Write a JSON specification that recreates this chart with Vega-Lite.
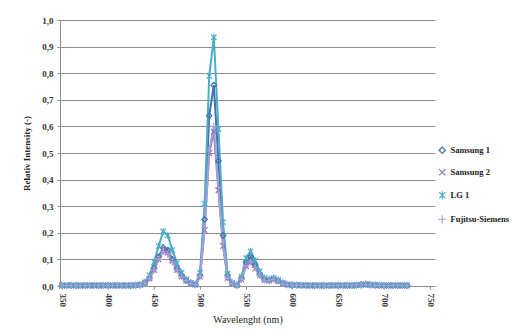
{
  "$schema": "https://vega.github.io/schema/vega-lite/v6.json",
  "width": 375,
  "height": 266,
  "autosize": {"type": "none"},
  "padding": {"left": 60, "top": 20, "right": 89, "bottom": 50},
  "background": "white",
  "config": {
    "view": {"stroke": null},
    "font": "Liberation Serif"
  },
  "data": {
    "values": [
      {"nm": 350, "Samsung 1": 0.002, "Samsung 2": 0.002, "LG 1": 0.002, "Fujitsu-Siemens": 0.002},
      {"nm": 355, "Samsung 1": 0.002, "Samsung 2": 0.003, "LG 1": 0.002, "Fujitsu-Siemens": 0.002},
      {"nm": 360, "Samsung 1": 0.002, "Samsung 2": 0.002, "LG 1": 0.003, "Fujitsu-Siemens": 0.002},
      {"nm": 365, "Samsung 1": 0.002, "Samsung 2": 0.002, "LG 1": 0.002, "Fujitsu-Siemens": 0.003},
      {"nm": 370, "Samsung 1": 0.002, "Samsung 2": 0.002, "LG 1": 0.002, "Fujitsu-Siemens": 0.002},
      {"nm": 375, "Samsung 1": 0.002, "Samsung 2": 0.003, "LG 1": 0.002, "Fujitsu-Siemens": 0.002},
      {"nm": 380, "Samsung 1": 0.002, "Samsung 2": 0.002, "LG 1": 0.002, "Fujitsu-Siemens": 0.002},
      {"nm": 385, "Samsung 1": 0.002, "Samsung 2": 0.002, "LG 1": 0.003, "Fujitsu-Siemens": 0.002},
      {"nm": 390, "Samsung 1": 0.002, "Samsung 2": 0.002, "LG 1": 0.002, "Fujitsu-Siemens": 0.002},
      {"nm": 395, "Samsung 1": 0.002, "Samsung 2": 0.002, "LG 1": 0.002, "Fujitsu-Siemens": 0.003},
      {"nm": 400, "Samsung 1": 0.002, "Samsung 2": 0.003, "LG 1": 0.002, "Fujitsu-Siemens": 0.002},
      {"nm": 405, "Samsung 1": 0.002, "Samsung 2": 0.002, "LG 1": 0.002, "Fujitsu-Siemens": 0.002},
      {"nm": 410, "Samsung 1": 0.002, "Samsung 2": 0.002, "LG 1": 0.003, "Fujitsu-Siemens": 0.002},
      {"nm": 415, "Samsung 1": 0.002, "Samsung 2": 0.002, "LG 1": 0.002, "Fujitsu-Siemens": 0.002},
      {"nm": 420, "Samsung 1": 0.002, "Samsung 2": 0.003, "LG 1": 0.002, "Fujitsu-Siemens": 0.002},
      {"nm": 425, "Samsung 1": 0.002, "Samsung 2": 0.002, "LG 1": 0.002, "Fujitsu-Siemens": 0.003},
      {"nm": 430, "Samsung 1": 0.003, "Samsung 2": 0.003, "LG 1": 0.003, "Fujitsu-Siemens": 0.003},
      {"nm": 435, "Samsung 1": 0.004, "Samsung 2": 0.004, "LG 1": 0.005, "Fujitsu-Siemens": 0.004},
      {"nm": 440, "Samsung 1": 0.012, "Samsung 2": 0.011, "LG 1": 0.014, "Fujitsu-Siemens": 0.011},
      {"nm": 445, "Samsung 1": 0.03, "Samsung 2": 0.028, "LG 1": 0.04, "Fujitsu-Siemens": 0.028},
      {"nm": 450, "Samsung 1": 0.068, "Samsung 2": 0.06, "LG 1": 0.09, "Fujitsu-Siemens": 0.06},
      {"nm": 455, "Samsung 1": 0.11, "Samsung 2": 0.1, "LG 1": 0.15, "Fujitsu-Siemens": 0.1},
      {"nm": 460, "Samsung 1": 0.145, "Samsung 2": 0.135, "LG 1": 0.205, "Fujitsu-Siemens": 0.13},
      {"nm": 465, "Samsung 1": 0.135, "Samsung 2": 0.125, "LG 1": 0.19, "Fujitsu-Siemens": 0.12},
      {"nm": 470, "Samsung 1": 0.1, "Samsung 2": 0.095, "LG 1": 0.135, "Fujitsu-Siemens": 0.09},
      {"nm": 475, "Samsung 1": 0.065, "Samsung 2": 0.06, "LG 1": 0.085, "Fujitsu-Siemens": 0.06},
      {"nm": 480, "Samsung 1": 0.04, "Samsung 2": 0.035, "LG 1": 0.05, "Fujitsu-Siemens": 0.035},
      {"nm": 485, "Samsung 1": 0.02, "Samsung 2": 0.02, "LG 1": 0.025, "Fujitsu-Siemens": 0.02},
      {"nm": 490, "Samsung 1": 0.01, "Samsung 2": 0.01, "LG 1": 0.012, "Fujitsu-Siemens": 0.01},
      {"nm": 495, "Samsung 1": 0.005, "Samsung 2": 0.005, "LG 1": 0.006, "Fujitsu-Siemens": 0.005},
      {"nm": 500, "Samsung 1": 0.04, "Samsung 2": 0.035, "LG 1": 0.05, "Fujitsu-Siemens": 0.035},
      {"nm": 505, "Samsung 1": 0.25, "Samsung 2": 0.21, "LG 1": 0.31, "Fujitsu-Siemens": 0.22},
      {"nm": 510, "Samsung 1": 0.64, "Samsung 2": 0.5, "LG 1": 0.79, "Fujitsu-Siemens": 0.51},
      {"nm": 515, "Samsung 1": 0.755, "Samsung 2": 0.58, "LG 1": 0.935, "Fujitsu-Siemens": 0.6},
      {"nm": 520, "Samsung 1": 0.47, "Samsung 2": 0.36, "LG 1": 0.59, "Fujitsu-Siemens": 0.37},
      {"nm": 525, "Samsung 1": 0.19, "Samsung 2": 0.15, "LG 1": 0.24, "Fujitsu-Siemens": 0.16},
      {"nm": 530, "Samsung 1": 0.04, "Samsung 2": 0.03, "LG 1": 0.045, "Fujitsu-Siemens": 0.03},
      {"nm": 535, "Samsung 1": 0.01, "Samsung 2": 0.01, "LG 1": 0.012, "Fujitsu-Siemens": 0.01},
      {"nm": 540, "Samsung 1": 0.003, "Samsung 2": 0.003, "LG 1": 0.004, "Fujitsu-Siemens": 0.003},
      {"nm": 545, "Samsung 1": 0.03, "Samsung 2": 0.025, "LG 1": 0.035, "Fujitsu-Siemens": 0.025},
      {"nm": 550, "Samsung 1": 0.09, "Samsung 2": 0.075, "LG 1": 0.105, "Fujitsu-Siemens": 0.075},
      {"nm": 555, "Samsung 1": 0.11, "Samsung 2": 0.09, "LG 1": 0.13, "Fujitsu-Siemens": 0.09},
      {"nm": 560, "Samsung 1": 0.08, "Samsung 2": 0.065, "LG 1": 0.095, "Fujitsu-Siemens": 0.07},
      {"nm": 565, "Samsung 1": 0.045, "Samsung 2": 0.04, "LG 1": 0.055, "Fujitsu-Siemens": 0.04},
      {"nm": 570, "Samsung 1": 0.025, "Samsung 2": 0.022, "LG 1": 0.03, "Fujitsu-Siemens": 0.022},
      {"nm": 575, "Samsung 1": 0.022, "Samsung 2": 0.02, "LG 1": 0.025, "Fujitsu-Siemens": 0.02},
      {"nm": 580, "Samsung 1": 0.028, "Samsung 2": 0.025, "LG 1": 0.03, "Fujitsu-Siemens": 0.025},
      {"nm": 585, "Samsung 1": 0.02, "Samsung 2": 0.018, "LG 1": 0.022, "Fujitsu-Siemens": 0.018},
      {"nm": 590, "Samsung 1": 0.01, "Samsung 2": 0.01, "LG 1": 0.012, "Fujitsu-Siemens": 0.01},
      {"nm": 595, "Samsung 1": 0.005, "Samsung 2": 0.005, "LG 1": 0.006, "Fujitsu-Siemens": 0.005},
      {"nm": 600, "Samsung 1": 0.003, "Samsung 2": 0.003, "LG 1": 0.004, "Fujitsu-Siemens": 0.003},
      {"nm": 605, "Samsung 1": 0.003, "Samsung 2": 0.003, "LG 1": 0.003, "Fujitsu-Siemens": 0.003},
      {"nm": 610, "Samsung 1": 0.002, "Samsung 2": 0.003, "LG 1": 0.003, "Fujitsu-Siemens": 0.002},
      {"nm": 615, "Samsung 1": 0.002, "Samsung 2": 0.002, "LG 1": 0.003, "Fujitsu-Siemens": 0.002},
      {"nm": 620, "Samsung 1": 0.002, "Samsung 2": 0.002, "LG 1": 0.002, "Fujitsu-Siemens": 0.002},
      {"nm": 625, "Samsung 1": 0.002, "Samsung 2": 0.003, "LG 1": 0.002, "Fujitsu-Siemens": 0.002},
      {"nm": 630, "Samsung 1": 0.002, "Samsung 2": 0.002, "LG 1": 0.003, "Fujitsu-Siemens": 0.002},
      {"nm": 635, "Samsung 1": 0.002, "Samsung 2": 0.002, "LG 1": 0.002, "Fujitsu-Siemens": 0.003},
      {"nm": 640, "Samsung 1": 0.002, "Samsung 2": 0.002, "LG 1": 0.002, "Fujitsu-Siemens": 0.002},
      {"nm": 645, "Samsung 1": 0.002, "Samsung 2": 0.003, "LG 1": 0.002, "Fujitsu-Siemens": 0.002},
      {"nm": 650, "Samsung 1": 0.002, "Samsung 2": 0.002, "LG 1": 0.003, "Fujitsu-Siemens": 0.002},
      {"nm": 655, "Samsung 1": 0.002, "Samsung 2": 0.002, "LG 1": 0.002, "Fujitsu-Siemens": 0.002},
      {"nm": 660, "Samsung 1": 0.002, "Samsung 2": 0.003, "LG 1": 0.002, "Fujitsu-Siemens": 0.003},
      {"nm": 665, "Samsung 1": 0.002, "Samsung 2": 0.002, "LG 1": 0.002, "Fujitsu-Siemens": 0.002},
      {"nm": 670, "Samsung 1": 0.003, "Samsung 2": 0.003, "LG 1": 0.003, "Fujitsu-Siemens": 0.003},
      {"nm": 675, "Samsung 1": 0.004, "Samsung 2": 0.004, "LG 1": 0.005, "Fujitsu-Siemens": 0.004},
      {"nm": 680, "Samsung 1": 0.006, "Samsung 2": 0.006, "LG 1": 0.007, "Fujitsu-Siemens": 0.006},
      {"nm": 685, "Samsung 1": 0.004, "Samsung 2": 0.004, "LG 1": 0.005, "Fujitsu-Siemens": 0.004},
      {"nm": 690, "Samsung 1": 0.003, "Samsung 2": 0.003, "LG 1": 0.003, "Fujitsu-Siemens": 0.003},
      {"nm": 695, "Samsung 1": 0.002, "Samsung 2": 0.002, "LG 1": 0.003, "Fujitsu-Siemens": 0.002},
      {"nm": 700, "Samsung 1": 0.002, "Samsung 2": 0.002, "LG 1": 0.002, "Fujitsu-Siemens": 0.002},
      {"nm": 705, "Samsung 1": 0.002, "Samsung 2": 0.002, "LG 1": 0.002, "Fujitsu-Siemens": 0.002},
      {"nm": 710, "Samsung 1": 0.002, "Samsung 2": 0.003, "LG 1": 0.002, "Fujitsu-Siemens": 0.002},
      {"nm": 715, "Samsung 1": 0.002, "Samsung 2": 0.002, "LG 1": 0.003, "Fujitsu-Siemens": 0.002},
      {"nm": 720, "Samsung 1": 0.002, "Samsung 2": 0.002, "LG 1": 0.002, "Fujitsu-Siemens": 0.002},
      {"nm": 725, "Samsung 1": 0.002, "Samsung 2": 0.002, "LG 1": 0.002, "Fujitsu-Siemens": 0.002}
    ]
  },
  "transform": [
    {"fold": ["Samsung 1", "Samsung 2", "LG 1", "Fujitsu-Siemens"], "as": ["series", "value"]}
  ],
  "encoding": {
    "x": {
      "field": "nm",
      "type": "quantitative",
      "scale": {"domain": [347.8, 755.4], "nice": false, "zero": false},
      "axis": {
        "title": "Wavelenght (nm)",
        "titleFont": "Liberation Serif",
        "titleFontSize": 10,
        "titleFontWeight": "normal",
        "titleColor": "#222222",
        "titlePadding": 8,
        "values": [350, 400, 450, 500, 550, 600, 650, 700, 750],
        "format": "d",
        "labelAngle": 90,
        "labelFont": "Liberation Serif",
        "labelFontSize": 9,
        "labelFontWeight": "bold",
        "labelColor": "#333333",
        "labelPadding": 4,
        "grid": false,
        "domainColor": "#8c8c8c",
        "tickColor": "#8c8c8c",
        "tickSize": 3
      }
    },
    "y": {
      "field": "value",
      "type": "quantitative",
      "scale": {"domain": [0, 1], "nice": false},
      "axis": {
        "title": "Relativ Intensity (-)",
        "titleFont": "Liberation Serif",
        "titleFontSize": 9,
        "titleFontWeight": "bold",
        "titleColor": "#222222",
        "titlePadding": 10,
        "values": [0, 0.1, 0.2, 0.3, 0.4, 0.5, 0.6, 0.7, 0.8, 0.9, 1],
        "labelExpr": "replace(format(datum.value, '.1f'), '.', ',')",
        "labelFont": "Liberation Serif",
        "labelFontSize": 9,
        "labelFontWeight": "bold",
        "labelColor": "#333333",
        "labelPadding": 4,
        "grid": true,
        "gridColor": "#8c8c8c",
        "gridWidth": 1,
        "domainColor": "#8c8c8c",
        "tickColor": "#8c8c8c",
        "tickSize": 3
      }
    },
    "color": {
      "field": "series",
      "type": "nominal",
      "scale": {
        "domain": ["Samsung 1", "Samsung 2", "LG 1", "Fujitsu-Siemens"],
        "range": ["#3f72b0", "#8a78b8", "#4bacc6", "#a99fd6"]
      },
      "legend": {
        "title": null,
        "orient": "none",
        "legendX": 378,
        "legendY": 126,
        "rowPadding": 10,
        "symbolSize": 40,
        "symbolStrokeWidth": 1.2,
        "labelFont": "Liberation Serif",
        "labelFontSize": 8.5,
        "labelFontWeight": "bold",
        "labelColor": "#222222"
      }
    }
  },
  "layer": [
    {
      "mark": {"type": "line", "strokeWidth": 2},
      "encoding": {"order": {"field": "nm", "type": "quantitative"}}
    },
    {
      "mark": {"type": "point", "filled": false, "strokeWidth": 1.2, "size": 30, "opacity": 1},
      "encoding": {
        "shape": {
          "field": "series",
          "type": "nominal",
          "scale": {
            "domain": ["Samsung 1", "Samsung 2", "LG 1", "Fujitsu-Siemens"],
            "range": [
              "diamond",
              "M-1,-1L1,1M-1,1L1,-1",
              "M-1,-1L1,1M-1,1L1,-1M0,-1.3L0,1.3",
              "M-1.3,0L1.3,0M0,-1.3L0,1.3"
            ]
          }
        }
      }
    }
  ]
}
